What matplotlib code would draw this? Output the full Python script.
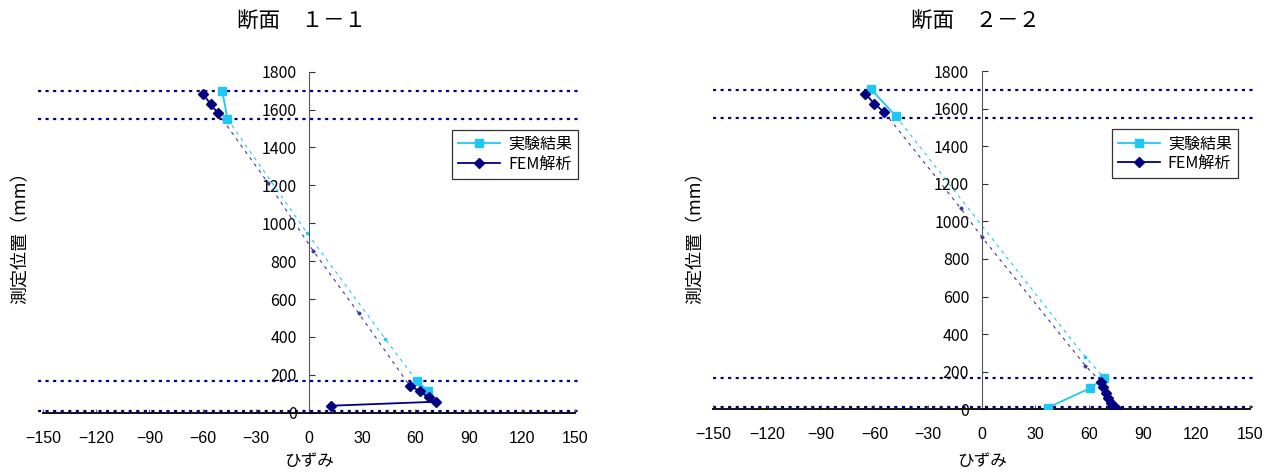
import matplotlib
matplotlib.use("Agg")
import matplotlib.pyplot as plt

plt.rcParams["font.family"] = ["Noto Sans CJK JP", "DejaVu Sans"]

CYAN = "#1ec8f4"
NAVY = "#000080"
TICK_FONT = ["Liberation Sans", "DejaVu Sans"]

# reference depths (dotted guide lines), mm
guide_y = [1700, 1552, 165, 11]

# 断面 1-1
exp1_top_x = [-49, -46]
exp1_top_y = [1700, 1550]
exp1_bot_x = [61, 67]
exp1_bot_y = [165, 116]
exp1_mid_x = [-46, -1, 43, 61]
exp1_mid_y = [1550, 947, 389, 165]
fem1_top_x = [-59.6, -55.5, -51.4]
fem1_top_y = [1681, 1628, 1581]
fem1_bot_x = [56.7, 62.5, 67.4, 71.5, 12.6]
fem1_bot_y = [143, 113, 81, 58, 37]
fem1_mid_x = [-51.4, -23, 2.3, 28, 56.7]
fem1_mid_y = [1581, 1211, 855, 525, 143]

# 断面 2-2
exp2_top_x = [-62, -48]
exp2_top_y = [1705, 1560]
exp2_bot_x = [68.5, 60.5, 37]
exp2_bot_y = [168, 112, 9]
exp2_mid_x = [-48, 57.7, 68.5]
exp2_mid_y = [1560, 280, 168]
fem2_top_x = [-65, -60, -54.4]
fem2_top_y = [1679, 1626, 1580]
fem2_bot_x = [66.5, 68, 69.5, 70.8, 72.1, 73.5, 74.8]
fem2_bot_y = [147, 120, 88, 58, 35, 19, 9]
fem2_mid_x = [-54.4, -11.7, 0, 58, 66.5]
fem2_mid_y = [1580, 1069, 918, 232, 147]

x_ticks = list(range(-150, 151, 30))
y_ticks = list(range(0, 1801, 200))


def draw_section(ax, exp_top, exp_bot, exp_mid, fem_top, fem_bot, fem_mid, guide_span):
    for gy in guide_y:
        ax.plot(guide_span, [gy, gy], color=NAVY, lw=1.6,
                linestyle=(0, (1.4, 2.0)), clip_on=False, zorder=1)

    # dashed interpolation between measurement groups
    ax.plot(*exp_mid, color=CYAN, lw=0.8, linestyle=(0, (3, 4)),
            marker="s", ms=1.8, zorder=2)
    ax.plot(*fem_mid, color="#3a3aa0", lw=0.8, linestyle=(0, (3, 4)),
            marker="D", ms=1.6, zorder=2)

    ax.plot(*exp_top, color=CYAN, lw=1.3, marker="s", ms=5.5, zorder=3,
            label="実験結果")
    ax.plot(*exp_bot, color=CYAN, lw=1.3, marker="s", ms=5.5, zorder=3)
    ax.plot(*fem_top, color=NAVY, lw=1.3, marker="D", ms=4.8, zorder=4,
            label="FEM解析")
    ax.plot(*fem_bot, color=NAVY, lw=1.3, marker="D", ms=4.8, zorder=4)

    ax.set_xlim(-150, 150)
    ax.set_ylim(0, 1800)
    ax.set_xticks(x_ticks)
    ax.set_yticks(y_ticks)
    ax.set_xticklabels([str(t).replace("-", "\u2212") for t in x_ticks],
                       family=TICK_FONT)
    ax.set_yticklabels([str(t) for t in y_ticks], family=TICK_FONT)

    ax.spines["top"].set_visible(False)
    ax.spines["right"].set_visible(False)
    ax.spines["left"].set_position(("data", 0))
    ax.spines["left"].set_color("#555555")
    ax.spines["bottom"].set_linewidth(1.3)
    ax.patch.set_alpha(0)

    ax.tick_params(axis="y", direction="in", length=4, pad=9, labelsize=11.5,
                   color="#333333")
    ax.tick_params(axis="x", direction="in", length=3, pad=13, labelsize=11.5,
                   color="#555555")


fig = plt.figure(figsize=(12.74, 4.72), dpi=100)
ax1 = fig.add_axes([0.0338, 0.1256, 0.4176, 0.7225])
ax2 = fig.add_axes([0.5599, 0.1328, 0.4213, 0.7167])

draw_section(ax1, (exp1_top_x, exp1_top_y), (exp1_bot_x, exp1_bot_y),
             (exp1_mid_x, exp1_mid_y), (fem1_top_x, fem1_top_y),
             (fem1_bot_x, fem1_bot_y), (fem1_mid_x, fem1_mid_y), [-153, 152])
draw_section(ax2, (exp2_top_x, exp2_top_y), (exp2_bot_x, exp2_bot_y),
             (exp2_mid_x, exp2_mid_y), (fem2_top_x, fem2_top_y),
             (fem2_bot_x, fem2_bot_y), (fem2_mid_x, fem2_mid_y), [-150, 153])

for ax, anchor in ((ax1, (1.006, 0.83)), (ax2, (0.978, 0.828))):
    leg = ax.legend(loc="upper right", bbox_to_anchor=anchor, fontsize=11.5,
                    frameon=True, fancybox=False, handlelength=2.6,
                    borderpad=0.4, labelspacing=0.15, handletextpad=0.5,
                    borderaxespad=0)
    leg.get_frame().set_edgecolor("black")
    leg.get_frame().set_linewidth(0.9)

fig.text(0.237, 0.953, "断面　１－１", ha="center", va="center", fontsize=15.5)
fig.text(0.766, 0.953, "断面　２－２", ha="center", va="center", fontsize=15.5)
fig.text(0.243, 0.022, "ひずみ", ha="center", va="center", fontsize=12)
fig.text(0.771, 0.022, "ひずみ", ha="center", va="center", fontsize=12)
fig.text(0.016, 0.505, "測定位置（mm）", ha="center", va="center",
         rotation=90, fontsize=13)
fig.text(0.546, 0.505, "測定位置（mm）", ha="center", va="center",
         rotation=90, fontsize=13)

fig.savefig("out.png", dpi=100)
